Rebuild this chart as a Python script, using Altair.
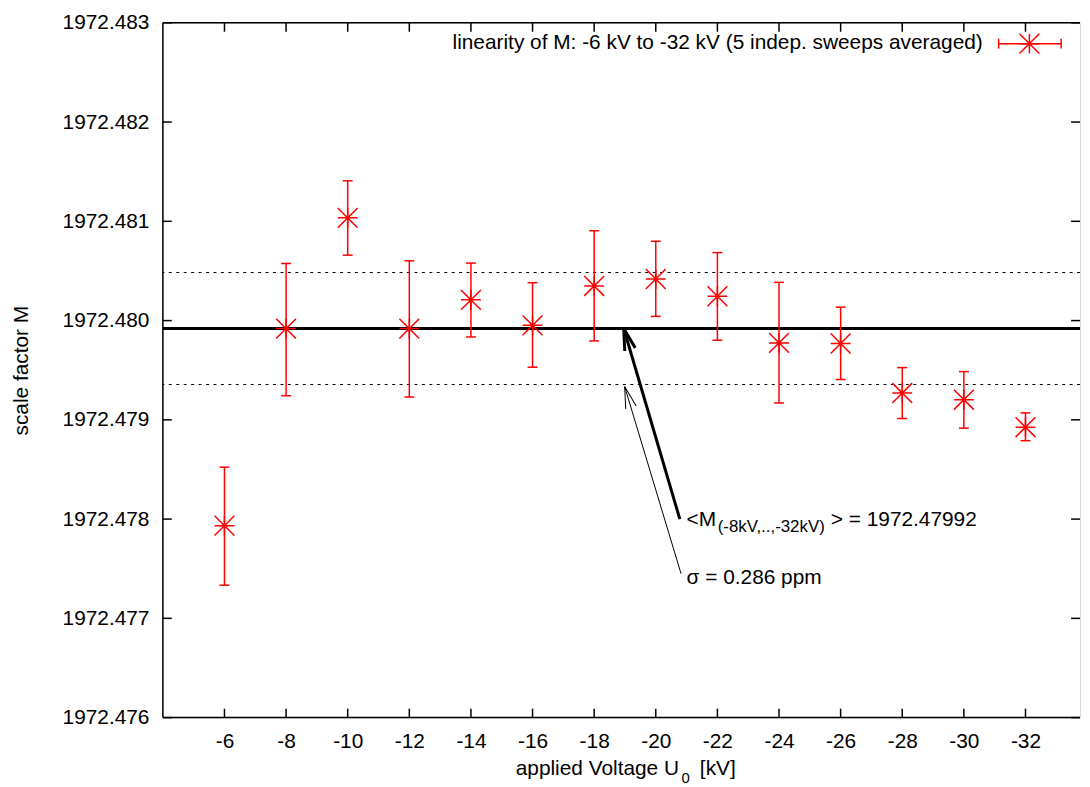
import altair as alt
import pandas as pd

# ---------------- data ----------------
volts = [-6, -8, -10, -12, -14, -16, -18, -20, -22, -24, -26, -28, -30, -32]
m_val = [1972.477934, 1972.479919, 1972.481035, 1972.479919, 1972.480209, 1972.479952, 1972.480349,
         1972.480419, 1972.480245, 1972.479775, 1972.479769, 1972.479270, 1972.479203, 1972.478926]
m_hi = [1972.478523, 1972.480575, 1972.481408, 1972.480602, 1972.480579, 1972.480382, 1972.480905,
        1972.480799, 1972.480685, 1972.480385, 1972.480135, 1972.479526, 1972.479486, 1972.479070]
m_lo = [1972.477334, 1972.479243, 1972.480659, 1972.479230, 1972.479835, 1972.479530, 1972.479795,
        1972.480042, 1972.479802, 1972.479170, 1972.479406, 1972.479013, 1972.478916, 1972.478790]

x_ticks = [-6, -8, -10, -12, -14, -16, -18, -20, -22, -24, -26, -28, -30, -32]
y_ticks = [1972.476, 1972.477, 1972.478, 1972.479, 1972.480, 1972.481, 1972.482, 1972.483]

mean_M = [1972.47992]
band_M = [1972.479356, 1972.480484]

# arrows: tail -> tip
arrow_x1 = [-20.78, -20.82]
arrow_y1 = [1972.47800, 1972.47745]
arrow_x2 = [-18.96, -18.99]
arrow_y2 = [1972.47992, 1972.479335]

ann_x = [-21.0]
ann_mean_y = [1972.477933]
ann_sigma_y = [1972.47735]
ann_mean_parts = ["<M", "(-8kV,..,-32kV)", "> = 1972.47992"]
ann_sigma = ["σ = 0.286 ppm"]

legend_label = ["linearity of M: -6 kV to -32 kV (5 indep. sweeps averaged)"]
x_title_parts = ["applied Voltage U", "0", "[kV]"]
y_title = "scale factor M"

# ---------------- styling ----------------
FONT = "Liberation Sans"
FS = 21
W, H = 924, 700
RED = "#ff0000"

STAR = "M-1,0L1,0M0,-1L0,1M-1,-1L1,1M-1,1L1,-1"
CAP = "M-1,0L1,0"
VCAP = "M0,-1L0,1"
HEAD = "M-0.25,1L0,0L0.25,1"

xs = alt.Scale(domain=[-33.77, -4], reverse=True, nice=False, zero=False)
ys = alt.Scale(domain=[1972.476, 1972.483], nice=False, zero=False)

xaxis = alt.Axis(values=x_ticks, ticks=False, domain=False, grid=False, labelFontSize=FS,
                 labelColor="black", labelPadding=13, labelFont=FONT, labelOverlap=False,
                 labelExpr="'' + datum.value", title=None)
yaxis = alt.Axis(values=y_ticks, format=".3f", ticks=False, domain=False, grid=False, labelFontSize=FS,
                 labelColor="black", labelPadding=14, labelFont=FONT, labelOverlap=False,
                 title=y_title, titleFont=FONT, titleFontSize=FS, titleFontWeight="normal",
                 titleColor="black", titleBaseline="alphabetic", titleX=-136)


def X(f):
    return alt.X(f"{f}:Q", scale=xs, axis=xaxis)


def Y(f):
    return alt.Y(f"{f}:Q", scale=ys, axis=yaxis)


def pt(shape, size, color, sw):
    return dict(shape=shape, size=size, color=color, strokeWidth=sw, opacity=1, filled=False)


df = pd.DataFrame({"V": volts, "M": m_val, "hi": m_hi, "lo": m_lo})
base = alt.Chart(df)

errbars = base.mark_rule(color=RED, strokeWidth=1.5).encode(x=X("V"), y=Y("lo"), y2="hi:Q")
cap_hi = base.mark_point(**pt(CAP, 100, RED, 1.5)).encode(x=X("V"), y=Y("hi"))
cap_lo = base.mark_point(**pt(CAP, 100, RED, 1.5)).encode(x=X("V"), y=Y("lo"))
stars = base.mark_point(**pt(STAR, 400, RED, 1.5)).encode(x=X("V"), y=Y("M"))

mean_line = alt.Chart(pd.DataFrame({"m": mean_M})).mark_rule(color="black", strokeWidth=3).encode(y=Y("m"))
band_lines = alt.Chart(pd.DataFrame({"b": band_M})).mark_rule(
    color="black", strokeWidth=1, strokeDash=[3, 4.5]).encode(y=Y("b"))

adf = pd.DataFrame({"x1": arrow_x1, "y1": arrow_y1, "x2": arrow_x2, "y2": arrow_y2})
thick_arrow = alt.Chart(adf.iloc[[0]]).mark_rule(color="black", strokeWidth=3).encode(
    x=X("x1"), x2="x2:Q", y=Y("y1"), y2="y2:Q")
thin_arrow = alt.Chart(adf.iloc[[1]]).mark_rule(color="black", strokeWidth=1).encode(
    x=X("x1"), x2="x2:Q", y=Y("y1"), y2="y2:Q")
thick_head = alt.Chart(adf.iloc[[0]]).mark_point(angle=343.4, **pt(HEAD, 1936, "black", 3)).encode(
    x=X("x2"), y=Y("y2"))
thin_head = alt.Chart(adf.iloc[[1]]).mark_point(angle=343.3, **pt(HEAD, 1936, "black", 1)).encode(
    x=X("x2"), y=Y("y2"))


def txt(**kw):
    d = dict(align="left", baseline="alphabetic", font=FONT, fontSize=FS, color="black")
    d.update(kw)
    return d


tdf = pd.DataFrame({"x": ann_x, "y": ann_mean_y})
t1 = alt.Chart(tdf).mark_text(**txt()).encode(x=X("x"), y=Y("y"), text=alt.value(ann_mean_parts[0]))
t2 = alt.Chart(tdf).mark_text(**txt(fontSize=17, dx=31.3, dy=6.3)).encode(
    x=X("x"), y=Y("y"), text=alt.value(ann_mean_parts[1]))
t3 = alt.Chart(tdf).mark_text(**txt(dx=145.3)).encode(x=X("x"), y=Y("y"), text=alt.value(ann_mean_parts[2]))
sdf = pd.DataFrame({"x": ann_x, "y": ann_sigma_y})
t4 = alt.Chart(sdf).mark_text(**txt()).encode(x=X("x"), y=Y("y"), text=alt.value(ann_sigma[0]))

# inward ticks on all four sides
xt = pd.DataFrame({"t": x_ticks})
yt = pd.DataFrame({"t": y_ticks})
tick_b = alt.Chart(xt).mark_rule(color="black", strokeWidth=1.5).encode(
    x=X("t"), y=alt.value(H), y2=alt.value(H - 9))
tick_t = alt.Chart(xt).mark_rule(color="black", strokeWidth=1.5).encode(
    x=X("t"), y=alt.value(0), y2=alt.value(9))
tick_l = alt.Chart(yt).mark_rule(color="black", strokeWidth=1.5).encode(
    y=Y("t"), x=alt.value(0), x2=alt.value(9))
tick_r = alt.Chart(yt).mark_rule(color="black", strokeWidth=1.5).encode(
    y=Y("t"), x=alt.value(W - 9), x2=alt.value(W))

one = pd.DataFrame({"k": [0]})
frame_l = alt.Chart(one).mark_rule(color="black", strokeWidth=1.5).encode(
    x=alt.value(0), y=alt.value(0), y2=alt.value(H))
frame_t = alt.Chart(one).mark_rule(color="black", strokeWidth=1.5).encode(
    x=alt.value(0), x2=alt.value(W), y=alt.value(0))
frame_b = alt.Chart(one).mark_rule(color="black", strokeWidth=1.5).encode(
    x=alt.value(0), x2=alt.value(W), y=alt.value(H))

# x-axis title with a real subscript
xt1 = alt.Chart(one).mark_text(**txt(align="right")).encode(
    x=alt.value(520), y=alt.value(758), text=alt.value(x_title_parts[0]))
xt2 = alt.Chart(one).mark_text(**txt(fontSize=15)).encode(
    x=alt.value(522.5), y=alt.value(766), text=alt.value(x_title_parts[1]))
xt3 = alt.Chart(one).mark_text(**txt()).encode(
    x=alt.value(541), y=alt.value(758), text=alt.value(x_title_parts[2]))

# key (legend) in the top-right corner
leg_text = alt.Chart(one).mark_text(**txt(align="right")).encode(
    x=alt.value(826), y=alt.value(26), text=alt.value(legend_label[0]))
leg_line = alt.Chart(one).mark_rule(color=RED, strokeWidth=1.5).encode(
    x=alt.value(842), x2=alt.value(905), y=alt.value(21))
leg_cap1 = alt.Chart(one).mark_point(**pt(VCAP, 100, RED, 1.5)).encode(x=alt.value(842), y=alt.value(21))
leg_cap2 = alt.Chart(one).mark_point(**pt(VCAP, 100, RED, 1.5)).encode(x=alt.value(905), y=alt.value(21))
leg_star = alt.Chart(one).mark_point(**pt(STAR, 400, RED, 1.5)).encode(x=alt.value(873), y=alt.value(21))

chart = alt.layer(
    band_lines, mean_line, errbars, cap_hi, cap_lo, stars,
    thick_arrow, thin_arrow, thick_head, thin_head, t1, t2, t3, t4,
    tick_b, tick_t, tick_l, tick_r, frame_l, frame_t, frame_b,
    xt1, xt2, xt3,
    leg_text, leg_line, leg_cap1, leg_cap2, leg_star,
).properties(
    width=W, height=H, autosize="none",
    padding={"left": 156, "top": 12, "right": 2, "bottom": 67},
).configure_view(stroke=None).configure(background="white")

chart.save("out.html", embed_options={"renderer": "svg", "actions": False})
